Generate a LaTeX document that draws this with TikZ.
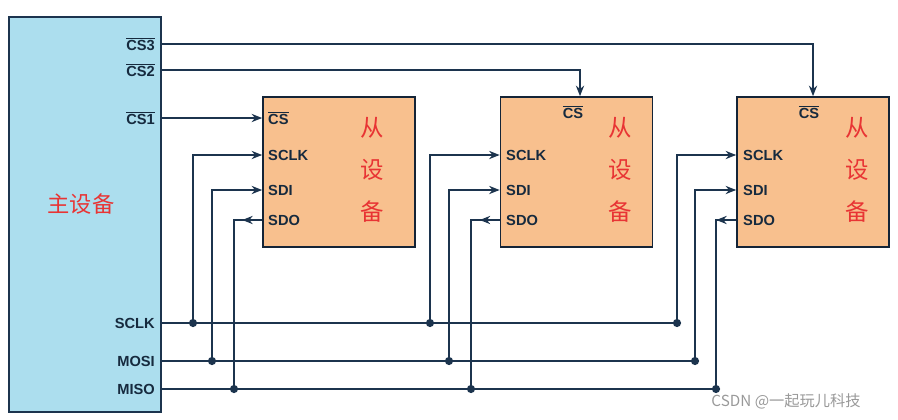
\documentclass[tikz,border=0pt]{standalone}
\usepackage{fontspec}
\setmainfont{Liberation Sans}
\newfontfamily\cjk{Noto Sans CJK SC}
\usetikzlibrary{arrows.meta,positioning}
\definecolor{wirecol}{RGB}{28,52,78}
\definecolor{mastercol}{RGB}{172,222,238}
\definecolor{slavecol}{RGB}{248,192,142}
\definecolor{redcol}{RGB}{232,52,52}
\tikzset{
  wire/.style={draw=wirecol, line width=1.4pt},
  tip/.style={-{Stealth[length=9pt,width=7pt]}},
  pin/.style={font=\bfseries\fontsize{12.5}{14}\selectfont, text=wirecol!80!black, inner sep=0pt},
  chip/.style={draw=wirecol!70!black, line width=1.4pt, minimum width=4.56cm, minimum height=4.5cm, fill=slavecol},
  zh/.style={font=\cjk\fontsize{20}{22}\selectfont, text=redcol, inner sep=0pt},
  dot/.style={circle, fill=wirecol, inner sep=0pt, minimum size=7pt},
}
\begin{document}
\begin{tikzpicture}[x=0.03cm, y=-0.03cm]
  \useasboundingbox (0,0) rectangle (898,419);
  % master
  \node[draw=wirecol, line width=1.4pt, fill=mastercol, minimum width=4.56cm, minimum height=11.85cm] (m) at (85,214.5) {};
  \node[zh, font=\cjk\fontsize{19}{22}\selectfont] (mname) at (81,204) {主设备};
  \node[pin, anchor=east] (mcs3) at (155,44) {$\overline{\mbox{\bfseries CS3}}$};
  \node[pin, anchor=east] (mcs2) at (155,70) {$\overline{\mbox{\bfseries CS2}}$};
  \node[pin, anchor=east] (mcs1) at (155,118) {$\overline{\mbox{\bfseries CS1}}$};
  \node[pin, anchor=east] (msclk) at (155,323) {SCLK};
  \node[pin, anchor=east] (mmosi) at (155,361) {MOSI};
  \node[pin, anchor=east] (mmiso) at (155,389) {MISO};
  % slaves
  \node[chip] (s1) at (339,172) {};
  \node[chip] (s2) at (576.5,172) {};
  \node[chip] (s3) at (813,172) {};
  \node[pin, anchor=west] (s1cs) at (268,118) {$\overline{\mbox{\bfseries CS}}$};
  \node[pin] (s2cs) at (573,112) {$\overline{\mbox{\bfseries CS}}$};
  \node[pin] (s3cs) at (809,112) {$\overline{\mbox{\bfseries CS}}$};
  \foreach \s/\x in {s1/268, s2/506, s3/743} {
    \node[pin, anchor=west] (\s clk) at (\x,155) {SCLK};
    \node[pin, anchor=west] (\s sdi) at (\x,190) {SDI};
    \node[pin, anchor=west] (\s sdo) at (\x,220) {SDO};
  }
  \foreach \s/\x in {s1/372, s2/620, s3/857} {
    \node[zh] (\s a) at (\x,128) {从};
    \node[zh] (\s b) at (\x,170) {设};
    \node[zh] (\s c) at (\x,212) {备};
  }
  % junctions
  \foreach \n/\x in {1/193, 2/430, 3/677} \coordinate (j\n a) at (\x,323);
  \foreach \n/\x in {1/212, 2/449, 3/695} \coordinate (j\n b) at (\x,361);
  \foreach \n/\x in {1/234, 2/471, 3/716} \coordinate (j\n c) at (\x,389);
  % chip selects
  \draw[wire, tip] (m.east |- mcs1) -- (s1.west |- mcs1);
  \draw[wire, tip] (m.east |- mcs2) -| (s2.north -| 580,0);
  \draw[wire, tip] (m.east |- mcs3) -| (s3.north -| 813,0);
  % buses
  \draw[wire] (m.east |- msclk) -- (j3a);
  \draw[wire] (m.east |- mmosi) -- (j3b);
  \draw[wire] (m.east |- mmiso) -- (j3c);
  \foreach \n in {1,2,3} {
    \draw[wire, tip] (j\n a) |- (s\n.west |- s\n clk);
    \draw[wire, tip] (j\n b) |- (s\n.west |- s\n sdi);
    \draw[wire] (j\n c) |- (s\n.west |- s\n sdo);
    \draw[wire, tip] (s\n.west |- s\n sdo) -- ++(-20,0);
    \node[dot] at (j\n a) {};
    \node[dot] at (j\n b) {};
    \node[dot] at (j\n c) {};
  }
  % watermark
  \node[font=\cjk\fontsize{13}{15}\selectfont, text=gray!80, inner sep=0pt] (wm) at (786,401) {CSDN @一起玩儿科技};
\end{tikzpicture}
\end{document}
